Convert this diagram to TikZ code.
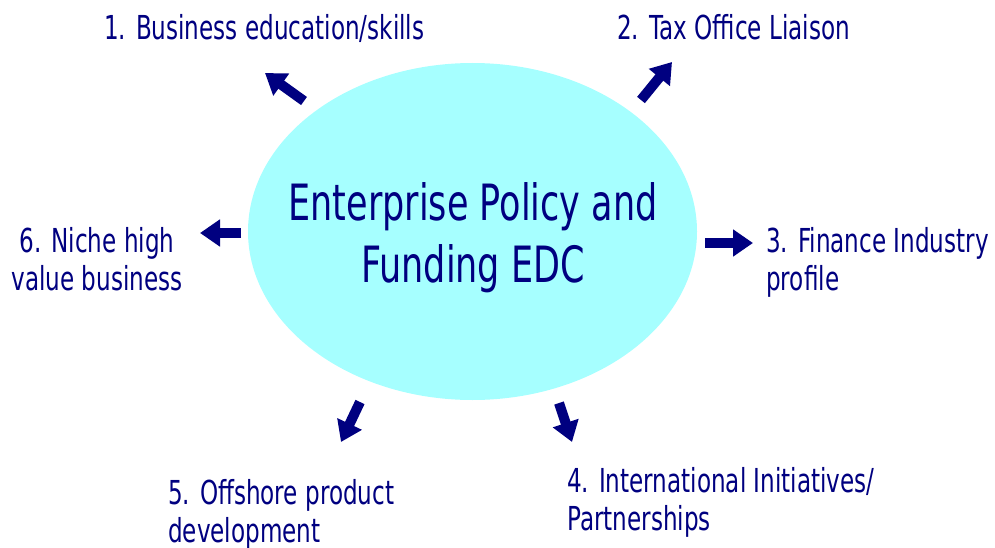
\documentclass[tikz,border=0pt]{standalone}
\usepackage{fontspec}
\usetikzlibrary{arrows.meta,shapes.geometric}
\newfontfamily\edcfont[FakeStretch=0.70]{DejaVu Sans}
\definecolor{edcnavy}{RGB}{0,0,128}
\definecolor{edccyan}{RGB}{166,255,255}
\begin{document}
\begin{tikzpicture}[x=1pt,y=-1pt,
  hub/.style={ellipse, fill=edccyan, draw=none, minimum width=449pt, minimum height=337pt, inner sep=0pt},
  hubtext/.style={text=edcnavy, align=center, font=\edcfont\fontsize{50}{62}\selectfont},
  item/.style={text=edcnavy, inner sep=0pt, font=\edcfont\fontsize{33}{38}\selectfont},
  bigarrow/.style={draw=edcnavy, line width=10pt, line cap=butt,
    -{Triangle[width=26pt,length=20pt]}}
]
\useasboundingbox (0,0) rectangle (995,548);

% central ellipse and its title (base = baseline of the last line)
\node[hub] (hub) at (472.5,231.5) {};
\node[hubtext, anchor=base] (title) at (473,282) {Enterprise Policy and\\Funding EDC};

% the six areas around it
\node[item, anchor=base west] (l1) at (104,40) {1. Business education/skills};
\node[item, anchor=base west] (l2) at (617,40) {2. Tax Office Liaison};
\node[item, anchor=base west, align=left] (l3) at (766,290) {3. Finance Industry\\profile};
\node[item, anchor=base west, align=left] (l4) at (567,530) {4. International Initiatives/\\Partnerships};
\node[item, anchor=base west, align=left] (l5) at (168,542) {5. Offshore product\\development};
\node[item, anchor=base, align=center] (l6) at (97,290) {6. Niche high\\value business};

% arrow ends
\coordinate (s1) at (304,101); \coordinate (e1) at (265,73);
\coordinate (s2) at (641,100); \coordinate (e2) at (672,62);
\coordinate (s3) at (705,243); \coordinate (e3) at (753,243);
\coordinate (s4) at (559,403); \coordinate (e4) at (572,442);
\coordinate (s5) at (360,402); \coordinate (e5) at (341,442);
\coordinate (s6) at (241,233); \coordinate (e6) at (200,233);

\draw[bigarrow] (s1) -- (e1);
\draw[bigarrow] (s2) -- (e2);
\draw[bigarrow] (s3) -- (e3);
\draw[bigarrow] (s4) -- (e4);
\draw[bigarrow] (s5) -- (e5);
\draw[bigarrow] (s6) -- (e6);
\end{tikzpicture}
\end{document}
